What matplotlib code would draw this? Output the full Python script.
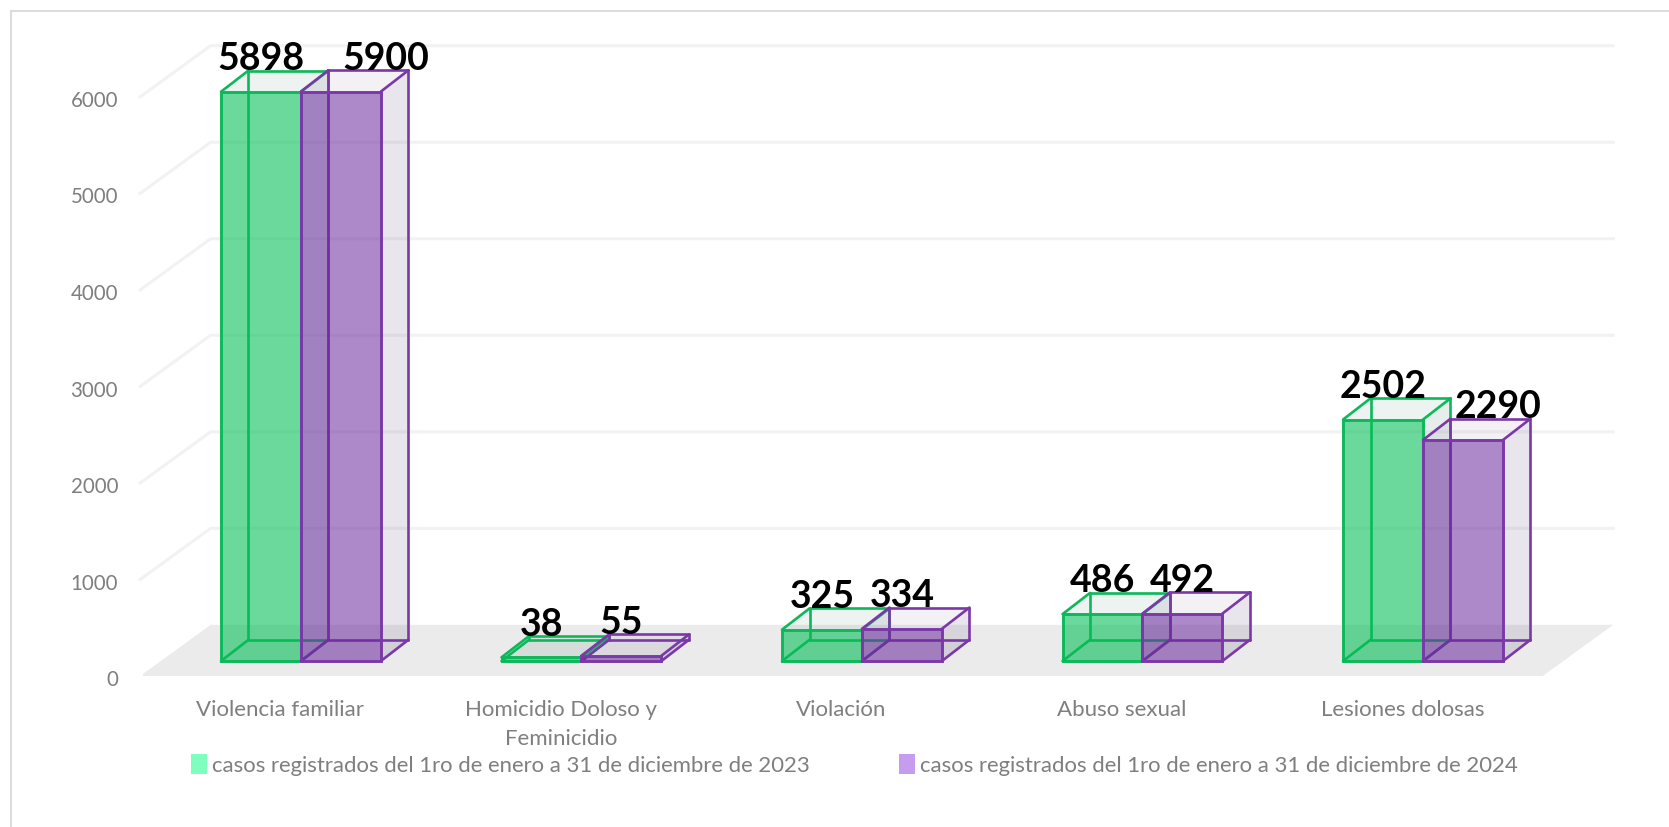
import matplotlib
matplotlib.use('Agg')
import matplotlib.pyplot as plt
from matplotlib.patches import Polygon, Patch, Rectangle
from matplotlib.transforms import ScaledTranslation

categories = ['Violencia familiar', 'Homicidio Doloso y\nFeminicidio', 'Violación', 'Abuso sexual', 'Lesiones dolosas']
casos_2023 = [5898, 38, 325, 486, 2502]
casos_2024 = [5900, 55, 334, 492, 2290]
legend_2023 = 'casos registrados del 1ro de enero a 31 de diciembre de 2023'
legend_2024 = 'casos registrados del 1ro de enero a 31 de diciembre de 2024'
y_ticks = [0, 1000, 2000, 3000, 4000, 5000, 6000]

plt.rcParams['font.family'] = ['Lato', 'DejaVu Sans']

W, H = 1669, 827
fig = plt.figure(figsize=(W / 100, H / 100), dpi=100)
ax = fig.add_axes([143 / W, 1 - 676 / H, 1473 / W, 644 / H])
ax.set_xlim(-0.5, 4.751)
ax.set_ylim(0, 6672)
ax.patch.set_visible(False)
for s in ax.spines.values():
    s.set_visible(False)

# 3d look: everything is shifted back by these amounts
floor_dx, floor_dy = 0.251, 530
floor_l, floor_r = -0.51, 4.49
bar_dx, bar_dy = 0.098, 220
bar_w = 0.285
base_y = 155
group_shift = 0.063

ax.add_patch(Polygon([(floor_l, 0), (floor_r, 0), (floor_r + floor_dx, floor_dy), (floor_l + floor_dx, floor_dy)],
                     fc='#EBEBEB', ec='none', zorder=1))
for t in y_ticks[1:]:
    ax.plot([floor_l, floor_l + floor_dx, floor_r + floor_dx], [t, t + floor_dy, t + floor_dy],
            color='#F2F2F2', lw=2.2, zorder=1, clip_on=False)


def draw_box(x, v, edge, front, side, top, z):
    y0 = base_y
    y1 = base_y + v
    d, e = bar_dx, bar_dy
    ax.add_patch(Polygon([(x + bar_w, y0), (x + bar_w + d, y0 + e), (x + bar_w + d, y1 + e), (x + bar_w, y1)],
                         fc=side, ec='none', zorder=z))
    ax.add_patch(Polygon([(x, y1), (x + d, y1 + e), (x + bar_w + d, y1 + e), (x + bar_w, y1)],
                         fc=top, ec='none', zorder=z))
    ax.add_patch(Polygon([(x, y0), (x + d, y0 + e), (x + bar_w + d, y0 + e), (x + bar_w, y0)],
                         fc=(0, 0, 0, 0.02), ec='none', zorder=z))
    # wireframe of the box, then the translucent front on top
    lines = [[(x, y0), (x + d, y0 + e)], [(x + d, y0 + e), (x + d, y1 + e)],
             [(x + d, y0 + e), (x + bar_w + d, y0 + e)], [(x, y1), (x + d, y1 + e)],
             [(x + d, y1 + e), (x + bar_w + d, y1 + e)], [(x + bar_w, y1), (x + bar_w + d, y1 + e)],
             [(x + bar_w + d, y1 + e), (x + bar_w + d, y0 + e)], [(x + bar_w, y0), (x + bar_w + d, y0 + e)]]
    for ln in lines:
        ax.plot(*zip(*ln), color=edge, lw=1.9, zorder=z + 0.1, solid_capstyle='round')
    ax.add_patch(Rectangle((x, y0), bar_w, v, fc=front, ec=edge, lw=2.1, zorder=z + 0.2))


green_edge = '#0CB85A'
purple_edge = '#7A38A8'
green_front = (0.0, 0.75, 0.33, 0.58)
purple_front = (0.42, 0.16, 0.62, 0.55)
green_side = (0.35, 0.55, 0.47, 0.15)
purple_side = (0.40, 0.33, 0.52, 0.15)
green_top = (0.35, 0.60, 0.47, 0.11)
purple_top = (0.45, 0.30, 0.55, 0.08)

# 5900 and 2290 were dragged to the right in the original
label_nudge = {(1, 0): 0.16, (1, 4): 0.125}

for i in range(len(categories)):
    x0 = i + group_shift - bar_w
    x1 = i + group_shift
    draw_box(x0, casos_2023[i], green_edge, green_front, green_side, green_top, 3)
    draw_box(x1, casos_2024[i], purple_edge, purple_front, purple_side, purple_top, 4)
    for k, (x, v) in enumerate([(x0, casos_2023[i]), (x1, casos_2024[i])]):
        ax.text(x + bar_w / 2 + label_nudge.get((k, i), 0), v + base_y + bar_dy + 6, str(v),
                ha='center', va='baseline', fontsize=27, fontweight='bold', color='black', zorder=10)

ax.set_xticks(range(len(categories)))
ax.set_xticklabels(categories, fontsize=16, color='#7F7F7F', linespacing=1.58)
ax.set_yticks(y_ticks)
ax.set_yticklabels([str(t) for t in y_ticks], fontsize=14.8, color='#7F7F7F')
ax.tick_params(length=0)
ax.tick_params(axis='x', pad=17)
ax.tick_params(axis='y', pad=18)

# small nudges of the tick labels, in points
for lbl in ax.get_yticklabels():
    lbl.set_transform(lbl.get_transform() + ScaledTranslation(0, -1.5 / 72, fig.dpi_scale_trans))
for lbl in ax.get_xticklabels():
    lbl.set_transform(lbl.get_transform() + ScaledTranslation(-2 / 72, 0, fig.dpi_scale_trans))

handles = [Patch(fc='#7FFFBE', ec='none'), Patch(fc='#C59CEE', ec='none')]
fig.legend(handles, [legend_2023, legend_2024], ncol=2, frameon=False, loc='center left',
           bbox_to_anchor=(191 / W, 1 - 765 / H), fontsize=15.95, labelcolor='#7F7F7F',
           handlelength=0.72, handleheight=1.0, handletextpad=0.25, columnspacing=4.0, borderpad=0, borderaxespad=0)

# thin frame of the chart area
fig.add_artist(plt.Line2D([10.5 / W, 10.5 / W], [0, 1 - 10.5 / H], color='#D9D9D9', lw=1.3))
fig.add_artist(plt.Line2D([10.5 / W, 1], [1 - 10.5 / H, 1 - 10.5 / H], color='#D9D9D9', lw=1.3))

fig.savefig('out.png', dpi=100)
